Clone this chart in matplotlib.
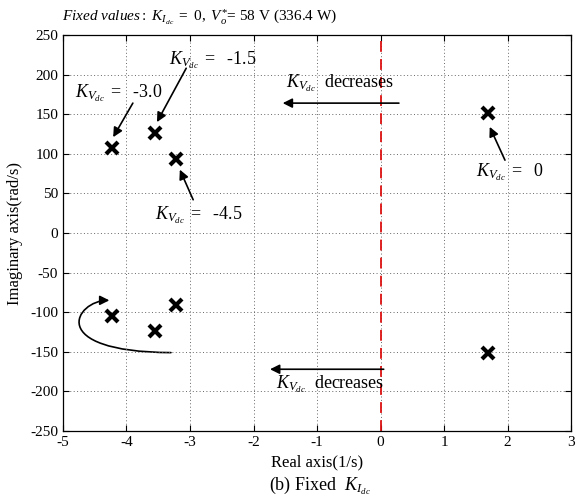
import matplotlib
matplotlib.use("Agg")
import matplotlib.pyplot as plt
from matplotlib.patches import FancyArrowPatch
from matplotlib.path import Path

plt.rcParams['font.family'] = 'Liberation Serif'
plt.rcParams['mathtext.fontset'] = 'custom'
plt.rcParams['mathtext.rm'] = 'Liberation Serif'
plt.rcParams['mathtext.it'] = 'Liberation Serif:italic'
plt.rcParams['axes.unicode_minus'] = False

# closed-loop poles (real, imaginary)
pole_re = [1.69, -4.23, -3.55, -3.22, 1.69, -4.23, -3.55, -3.22]
pole_im = [152, 107, 126, 94, -152, -105, -124, -91]

xticks = [-5, -4, -3, -2, -1, 0, 1, 2, 3]
yticks = [-250, -200, -150, -100, -50, 0, 50, 100, 150, 200, 250]

K = r'$K_{V_{dc}}$'

fig = plt.figure(figsize=(5.79, 5.03), dpi=100)
ax = fig.add_axes([0.1088, 0.1431, 0.8774, 0.7873])

ax.set_xlim(-5, 3)
ax.set_ylim(-250, 250)
ax.set_xticks(xticks)
ax.set_yticks(yticks)
ax.grid(True, color='#666666', linestyle=(0, (1, 2.5)), linewidth=0.7)
ax.tick_params(direction='in', top=True, right=True, labelsize=11, length=4)
for s in ax.spines.values():
    s.set_linewidth(0.9)

ax.axvline(0, color='#dd1111', linestyle=(0, (6, 4)), linewidth=1.3)

ax.plot(pole_re, pole_im, 'x', color='black', markersize=9, markeredgewidth=3, zorder=5)

arr = dict(arrowstyle='-|>', color='black', lw=1.2, mutation_scale=14, shrinkA=0, shrinkB=0)

def label(x, y, s):
    ax.text(x, y, K + r'$\ =\ $' + s, fontsize=13, ha='center', va='center')

def arrow(x0, y0, x1, y1):
    ax.annotate('', xy=(x1, y1), xytext=(x0, y0), arrowprops=arr)

label(-2.65, 218, ' -1.5')
arrow(-3.06, 208, -3.52, 140)
label(-4.12, 177, ' -3.0')
arrow(-3.9, 164, -4.21, 121)
label(-2.86, 23, ' -4.5')
arrow(-2.95, 42, -3.16, 80)
label(2.04, 77, ' 0')
arrow(1.96, 92, 1.72, 134)

ax.text(-0.64, 189, K + '  decreases', fontsize=13, ha='center', va='center')
arrow(0.29, 164, -1.54, 164)
arrow(0.05, -172, -1.74, -172)
ax.text(-0.8, -191, K + '  decreases', fontsize=13, ha='center', va='center')

curve = Path([(-3.3, -151), (-5.3, -150), (-4.8, -85), (-4.27, -85)],
             [Path.MOVETO, Path.CURVE4, Path.CURVE4, Path.CURVE4])
ax.add_patch(FancyArrowPatch(path=curve, arrowstyle='-|>', color='black', lw=1.2,
                             mutation_scale=14))

ax.set_xlabel('Real axis(1/s)', fontsize=12, labelpad=4)
ax.set_ylabel('Imaginary axis(rad/s)', fontsize=12, labelpad=5)
fig.text(0.553, 0.025, r'(b) Fixed  $K_{I_{dc}}$', fontsize=13, ha='center')
fig.text(0.107, 0.958, r'$\mathit{Fixed\ values:}\ K_{I_{dc}}\ =\ 0,\ V_o^{*}$' + '= 58 V (336.4 W)',
         fontsize=11, ha='left')

fig.savefig('out.png', dpi=100)
